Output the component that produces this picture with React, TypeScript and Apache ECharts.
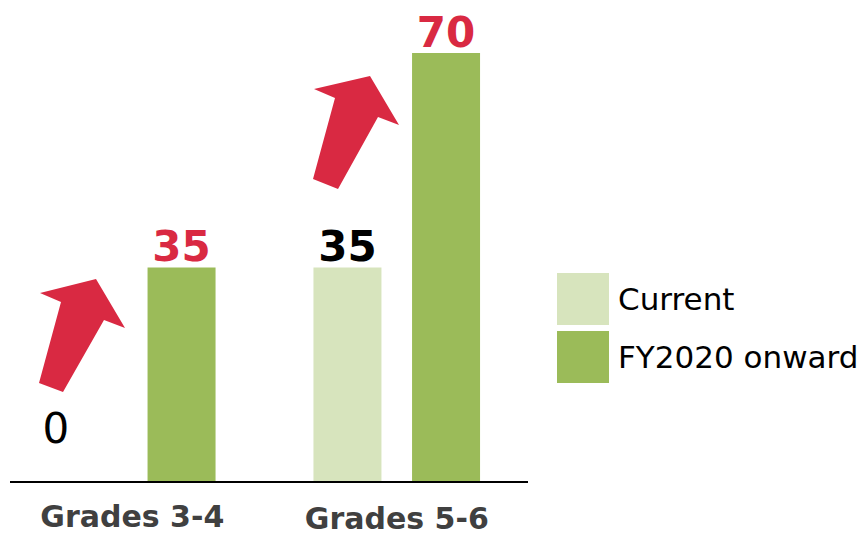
import React, { useEffect, useRef } from "react";
import * as echarts from "echarts";

const categories = ["Grades 3-4", "Grades 5-6"];
const seriesNames = ["Current", "FY2020 onward"];
const currentValues = [0, 35];
const fy2020Values = [35, 70];

const RED = "#d92942";
const LIGHT = "#d7e4bd";
const DARK = "#9bbb59";
const FONT = "DejaVu Sans, Verdana, sans-serif";

export default function App() {
  const ref = useRef<HTMLDivElement>(null);
  useEffect(() => {
    if (!ref.current) return;
    const chart = echarts.init(ref.current, null, { renderer: "svg" });
    const arrowStyle = { fill: RED };
    chart.setOption({
      animation: false,
      backgroundColor: "#ffffff",
      textStyle: { fontFamily: FONT },
      grid: { left: -3, width: 532, top: 53, bottom: 55, containLabel: false },
      legend: {
        orient: "vertical",
        left: 552,
        top: 268,
        itemWidth: 52,
        itemHeight: 52,
        itemGap: 6,
        icon: "rect",
        data: seriesNames,
        textStyle: { fontSize: 31, color: "#000000", fontFamily: FONT, padding: [0, 0, 0, 4] },
      },
      xAxis: {
        type: "category",
        data: categories,
        axisLine: { show: false },
        axisTick: { show: false },
        axisLabel: {
          margin: 19,
          formatter: (v: string, i: number) => (i === 0 ? `{a|${v}}` : `{b|${v}}`),
          rich: {
            a: { fontSize: 30, lineHeight: 30, fontWeight: "bold", color: "#404040", fontFamily: FONT },
            b: { fontSize: 30, lineHeight: 30, fontWeight: "bold", color: "#404040", fontFamily: FONT, padding: [5, 0, 0, 0] },
          },
        },
      },
      yAxis: { type: "value", min: 0, max: 70, show: false, splitLine: { show: false } },
      series: [
        {
          name: seriesNames[0],
          type: "bar",
          barWidth: 68,
          barGap: "45%",
          itemStyle: { color: LIGHT },
          label: {
            show: true,
            position: "top",
            distance: 0,
            fontSize: 42,
            fontWeight: "bold",
            color: "#000000",
            fontFamily: FONT,
          },
          data: currentValues.map((v, i) =>
            i === 0 ? { value: v, label: { fontWeight: "normal", offset: [-27, -33] } } : v
          ),
        },
        {
          name: seriesNames[1],
          type: "bar",
          barWidth: 68,
          barGap: "45%",
          itemStyle: { color: DARK },
          label: {
            show: true,
            position: "top",
            distance: 0,
            fontSize: 42,
            fontWeight: "bold",
            color: RED,
            fontFamily: FONT,
          },
          data: fy2020Values,
        },
      ],
      graphic: [
        {
          type: "line",
          z: 100,
          shape: { x1: 10, y1: 482, x2: 528, y2: 482 },
          style: { stroke: "#000000", lineWidth: 2 },
        },
        {
          type: "polygon",
          shape: {
            points: [
              [39, 383], [63, 392], [104, 320], [125, 328], [96, 279], [40, 293], [61, 302],
            ],
          },
          style: arrowStyle,
        },
        {
          type: "polygon",
          shape: {
            points: [
              [313, 179], [338, 189], [378, 117], [399, 125], [370, 76], [314, 89], [335, 98],
            ],
          },
          style: arrowStyle,
        },
      ],
    });
    return () => chart.dispose();
  }, []);
  return (
    <div
      ref={ref}
      style={{ position: "fixed", left: 0, top: 0, width: 866, height: 537 }}
    />
  );
}
